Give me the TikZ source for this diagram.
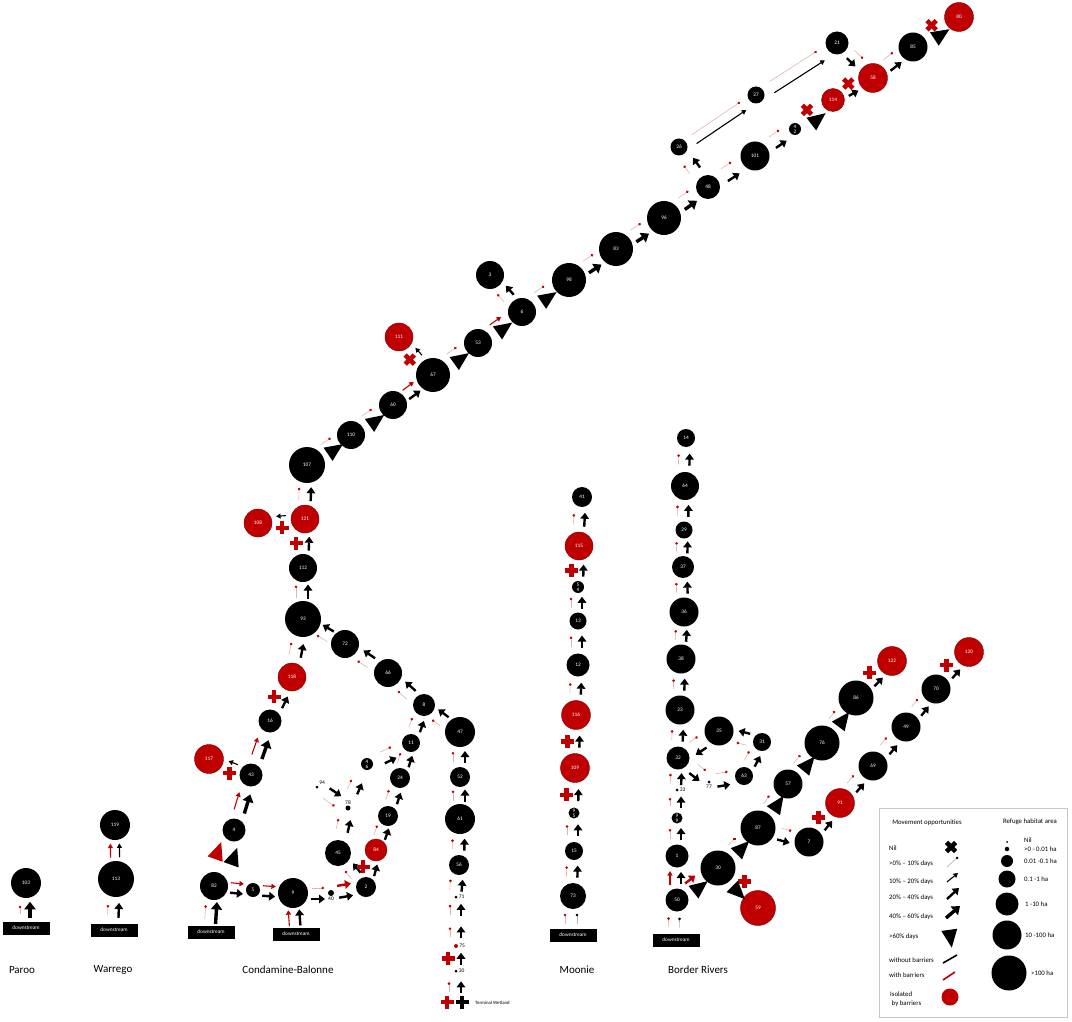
\documentclass[tikz,border=0pt]{standalone}
\usepackage{fontspec}
\setmainfont{Carlito}
\usetikzlibrary{calc,arrows.meta,shapes.geometric}
\definecolor{rd}{RGB}{192,0,0}
\definecolor{rdk}{RGB}{120,0,0}
\definecolor{pk}{RGB}{225,180,180}
\tikzset{
 nd/.style={circle, fill=black, inner sep=0pt, minimum size=#1pt, text=white, align=center, font=\fontsize{5.3}{5}\selectfont},
 rnd/.style={nd=#1, fill=rd, draw=rdk, line width=0.4pt},
 dt/.style={circle, fill=black, inner sep=0pt, minimum size=#1pt},
 lbl/.style={font=\fontsize{5.5}{6}\selectfont, inner sep=1pt},
 lo/.style={draw=pk, line width=0.6pt, -{Circle[length=2.6pt, color=rd]}},
 glo/.style={draw=black!30, line width=0.6pt, -{Circle[length=2.6pt, color=black]}},
 a1/.style={draw=black, line width=1.1pt, -{Triangle[length=4.5pt,width=5pt]}},
 ra1/.style={a1, draw=rd},
 a2/.style={draw=black, line width=2.4pt, -{Triangle[length=6pt,width=8.5pt]}},
 ra2/.style={a2, draw=rd},
 a3/.style={draw=black, line width=3.4pt, -{Triangle[length=7.5pt,width=11pt]}},
 trs/.style={isosceles triangle, isosceles triangle stretches, minimum width=16pt, minimum height=18pt, inner sep=0pt},
 dsb/.style={fill=black, text=white, minimum width=47pt, minimum height=13pt, inner sep=0pt, font=\fontsize{5.3}{5}\selectfont},
 rlab/.style={font=\fontsize{11}{13}\selectfont, inner sep=0pt},
 lf/.style={font=\fontsize{6.8}{8}\selectfont, inner sep=0pt, align=left},
 pics/plus/.style={code={\fill (-6.5,-2.3) rectangle (6.5,2.3); \fill (-2.3,-6.5) rectangle (2.3,6.5);}},
}
% connector symbol between two named nodes: [length]{style}{from}{to}{offset, + = left}
\newcommand{\lnk}[5][14]{%
  \path (#3) -- (#4) coordinate[pos=0] (qS) coordinate[pos=1] (qE) coordinate[pos=0.5] (qM);
  \draw[#2] ($(qM)!{-0.5*#1pt}!(qE)!#5pt!90:(qE)$) -- ($(qM)!{0.5*#1pt}!(qE)!#5pt!-90:(qS)$);}
% big triangle (>60% days): {from}{to}{offset}{colour}
\newcommand{\trg}[4]{%
  \path (#1) -- (#2) coordinate[pos=0] (qS) coordinate[pos=1] (qE) coordinate[pos=0.5] (qM);
  \path let \p1=($(qE)-(qS)$), \n1={atan2(\y1,\x1)} in
    node[trs, fill=#4, rotate=\n1] at ($(qM)!#3pt!90:(qE)$) {};}
% nil cross: {from}{to}{offset}{colour}{rotation}
\newcommand{\xcr}[5]{%
  \path (#1) -- (#2) coordinate[pos=0.5] (qM) coordinate[pos=1] (qE);
  \pic[#4, rotate=#5] at ($(qM)!#3pt!90:(qE)$) {plus};}
\begin{document}
\begin{tikzpicture}[x=1pt,y=-1pt]
\fill[white] (0,0) rectangle (1072,1022);
\useasboundingbox (0,0) rectangle (1072,1022);
% ---------------- Paroo
\node[nd=30] (n103) at (26,883) {103};
\node[dsb] (d103) at (26,928) {downstream};
% ---------------- Warrego
\node[nd=30] (n119) at (115,825) {119};
\node[nd=36] (n113) at (116,879) {113};
\node[dsb] (d113) at (114,930) {downstream};
% ---------------- Condamine-Balonne
\node[dsb] (d82) at (211,932) {downstream};
\node[dsb] (d9) at (296,934) {downstream};
\node[nd=28] (n82) at (214,886) {82};
\node[nd=14] (n5) at (253,890) {5};
\node[nd=30] (n9) at (293,893) {9};
\node[dt=6, label={[lbl]below:40}] (n40) at (331,893) {};
\node[nd=20] (n2) at (366,887) {2};
\node[nd=26] (n45) at (338,853) {45};
\node[rnd=22] (n84) at (376,850) {84};
\node[dt=5, label={[lbl]above:78}] (n78) at (348,808) {};
\node[dt=3, label={[lbl]above right:94}] (n94) at (317,787) {};
\node[nd=12] (n46) at (367,764) {4\\6};
\node[nd=20] (n19) at (388,816) {19};
\node[nd=20] (n24) at (400,778) {24};
\node[nd=18] (n11) at (411,743) {11};
\node[nd=22] (n8) at (424,705) {8};
\node[nd=30] (n47) at (460,732) {47};
\node[nd=20] (n52) at (460,777) {52};
\node[nd=30] (n61) at (460,819) {61};
\node[nd=20] (n56) at (459,865) {56};
\node[dt=3, label={[lbl]right:71}] (n71) at (456,897) {};
\coordinate (m75) at (456,921);
\node[dt=4, fill=rd, label={[lbl]right:75}] (n75) at (456,946) {};
\node[dt=3, label={[lbl]right:30}] (n30c) at (456,971) {};
\coordinate (tw) at (456,1002);
\node[lbl, anchor=west, font=\fontsize{4.8}{5}\selectfont] (twl) at (474,1003) {Terminal Wetland};
\node[nd=28] (n66) at (388,673) {66};
\node[nd=28] (n72) at (345,644) {72};
\node[nd=36] (n93) at (303,619) {93};
\node[nd=28] (n112) at (303,568) {112};
\node[rnd=28] (n121) at (305,519) {121};
\node[rnd=28] (n108) at (258,523) {108};
\node[nd=36] (n107) at (307,465) {107};
\node[nd=28] (n110) at (351,435) {110};
\node[nd=28] (n60) at (393,405) {60};
\node[nd=34] (n67) at (433,375) {67};
\node[rnd=28] (n111) at (399,337) {111};
\node[nd=28] (n53) at (478,343) {53};
\node[nd=28] (n6) at (522,312) {6};
\node[nd=28] (n3) at (490,275) {3};
\node[nd=34] (n98) at (569,280) {98};
\node[nd=34] (n83) at (616,249) {83};
\node[nd=34] (n96) at (664,218) {96};
\node[nd=24] (n48) at (708,187) {48};
\node[nd=17] (n26) at (679,147) {26};
\node[nd=17] (n27) at (756,95) {27};
\node[nd=23] (n21) at (837,43) {21};
\node[nd=29] (n101) at (755,156) {101};
\node[nd=12] (n42) at (795,129) {4\\2};
\node[rnd=23] (n114) at (833,100) {114};
\node[rnd=29] (n58) at (873,78) {58};
\node[nd=29] (n85) at (913,47) {85};
\node[rnd=29] (n80) at (959,17) {80};
\node[rnd=28] (n118) at (292,677) {118};
\node[nd=23] (n16) at (270,721) {16};
\node[nd=23] (n43) at (251,775) {43};
\node[rnd=29] (n117) at (209,759) {117};
\node[nd=23] (n4) at (234,830) {4};
% ---------------- Moonie
\node[nd=20] (n41) at (582,497) {41};
\node[rnd=28] (n115) at (579,546) {115};
\node[nd=12] (n54) at (578,587) {5\\4};
\node[nd=17] (n13) at (578,621) {13};
\node[nd=23] (n12) at (578,665) {12};
\node[rnd=29] (n116) at (576,715) {116};
\node[rnd=29] (n109) at (575,768) {109};
\node[nd=11] (n95) at (574,813) {9\\5};
\node[nd=18] (n15) at (574,851) {15};
\node[nd=26] (n73) at (573,896) {73};
\node[dsb] (d73) at (573,935) {downstream};
% ---------------- Border Rivers
\node[nd=18] (n14) at (686,438) {14};
\node[nd=28] (n64) at (685,486) {64};
\node[nd=17] (n29) at (684,530) {29};
\node[nd=22] (n37) at (683,567) {37};
\node[nd=29] (n36) at (684,612) {36};
\node[nd=29] (n38) at (681,659) {38};
\node[nd=29] (n23) at (680,710) {23};
\node[nd=23] (n32) at (678,758) {32};
\node[dt=3, label={[lbl]right:33}] (n33) at (677,790) {};
\node[nd=11] (n99) at (677,818) {9\\9};
\node[nd=23] (n1) at (677,856) {1};
\node[nd=23] (n50) at (677,900) {50};
\node[dsb] (d50) at (676,940) {downstream};
\node[nd=29] (n35) at (719,731) {35};
\node[nd=18] (n31) at (762,742) {31};
\node[nd=18] (n63) at (744,776) {63};
\node[dt=3, label={[lbl]below:77}] (n77) at (709,782) {};
\node[nd=35] (n30) at (718,868) {30};
\node[rnd=35] (n59) at (758,908) {59};
\node[nd=35] (n87) at (758,828) {87};
\node[nd=29] (n57) at (788,784) {57};
\node[nd=35] (n76) at (822,743) {76};
\node[nd=35] (n86) at (856,698) {86};
\node[rnd=29] (n122) at (892,661) {122};
\node[nd=29] (n7) at (809,842) {7};
\node[rnd=29] (n91) at (840,803) {91};
\node[nd=29] (n69) at (873,766) {69};
\node[nd=29] (n49) at (906,727) {49};
\node[nd=29] (n70) at (936,689) {70};
\node[rnd=29] (n120) at (969,652) {120};
% ---------------- region labels
\node[rlab] (lp) at (22,970) {Paroo};
\node[rlab] (lw) at (113,970) {Warrego};
\node[rlab] (lc) at (288,970) {Condamine-Balonne};
\node[rlab] (lm) at (577,970) {Moonie};
\node[rlab] (lb) at (698,970) {Border Rivers};
% ================= connectors
% Paroo / Warrego
\lnk[8]{lo}{d103}{n103}{6} \lnk[16]{a3}{d103}{n103}{-4}
\lnk[10]{lo}{d113}{n113}{7} \lnk[15]{a2}{d113}{n113}{-4}
\lnk[14]{ra1}{n113}{n119}{5} \lnk[14]{a1}{n113}{n119}{-4}
% Condamine lower
\lnk[14]{lo}{d82}{n82}{7} \lnk[22]{a3}{d82}{n82}{-4}
\lnk[16]{ra1}{d9}{n9}{6} \lnk[16]{a2}{d9}{n9}{-5}
\lnk[13]{ra1}{n82}{n5}{5} \lnk[13]{a2}{n82}{n5}{-5}
\lnk[13]{ra1}{n5}{n9}{5} \lnk[13]{a2}{n5}{n9}{-5}
\lnk[12]{lo}{n9}{n40}{5} \lnk[14]{a2}{n9}{n40}{-6}
\lnk[14]{ra2}{n40}{n2}{6} \lnk[14]{a2}{n40}{n2}{-6}
\trg{n82}{n4}{8}{rd} \trg{n82}{n4}{-9}{black}
\lnk[18]{ra1}{n4}{n43}{6} \lnk[20]{a3}{n4}{n43}{-5}
\lnk[18]{ra1}{n43}{n16}{6} \lnk[20]{a3}{n43}{n16}{-5}
\xcr{n43}{n117}{6}{rd}{0} \lnk[10]{a1}{n43}{n117}{-5}
\xcr{n16}{n118}{7}{rd}{0} \lnk[13]{a2}{n16}{n118}{-5}
\lnk[12]{lo}{n118}{n93}{7} \lnk[14]{a2}{n118}{n93}{-5}
\lnk[12]{lo}{n93}{n112}{7} \lnk[14]{a2}{n93}{n112}{-5}
\xcr{n112}{n121}{8}{rd}{0} \lnk[14]{a2}{n112}{n121}{-5}
\xcr{n121}{n108}{7}{rd}{0} \lnk[10]{a1}{n121}{n108}{-5}
\lnk[12]{lo}{n121}{n107}{7} \lnk[14]{a2}{n121}{n107}{-5}
% main upper chain
\lnk[12]{lo}{n107}{n110}{9} \trg{n107}{n110}{-3}{black}
\lnk[12]{lo}{n110}{n60}{9} \trg{n110}{n60}{-3}{black}
\lnk[14]{ra1}{n60}{n67}{6} \lnk[14]{a2}{n60}{n67}{-5}
\xcr{n67}{n111}{7}{rd}{45} \lnk[10]{a1}{n67}{n111}{-5}
\lnk[12]{lo}{n67}{n53}{9} \trg{n67}{n53}{-3}{black}
\lnk[14]{ra1}{n53}{n6}{8} \trg{n53}{n6}{-3}{black}
\lnk[10]{lo}{n6}{n3}{7} \lnk[12]{a2}{n6}{n3}{-5}
\lnk[12]{lo}{n6}{n98}{9} \trg{n6}{n98}{-3}{black}
\lnk[12]{lo}{n98}{n83}{8} \lnk[15]{a3}{n98}{n83}{-5}
\lnk[12]{lo}{n83}{n96}{8} \lnk[15]{a3}{n83}{n96}{-5}
\lnk[12]{lo}{n96}{n48}{8} \lnk[15]{a3}{n96}{n48}{-5}
\lnk[10]{lo}{n48}{n26}{7} \lnk[12]{a2}{n48}{n26}{-5}
\lnk[58]{lo}{n26}{n27}{3} \lnk[60]{a1}{n26}{n27}{-7}
\lnk[56]{lo}{n27}{n21}{4} \lnk[60]{a1}{n27}{n21}{-8}
\lnk[12]{lo}{n21}{n58}{7} \lnk[12]{a2}{n21}{n58}{-4}
\lnk[12]{lo}{n48}{n101}{8} \lnk[14]{a2}{n48}{n101}{-6}
\lnk[12]{lo}{n101}{n42}{8} \lnk[13]{a2}{n101}{n42}{-5}
\xcr{n42}{n114}{8}{rd}{45} \trg{n42}{n114}{-6}{black}
\xcr{n114}{n58}{7}{rd}{45} \lnk[11]{a2}{n114}{n58}{-4}
\lnk[12]{lo}{n58}{n85}{8} \lnk[14]{a2}{n58}{n85}{-5}
\xcr{n85}{n80}{8}{rd}{45} \trg{n85}{n80}{-5}{black}
% Condamine inner network
\lnk[12]{lo}{n8}{n66}{7} \lnk[14]{a2}{n8}{n66}{-5}
\lnk[12]{lo}{n66}{n72}{7} \lnk[14]{a2}{n66}{n72}{-5}
\lnk[12]{lo}{n72}{n93}{7} \lnk[13]{a2}{n72}{n93}{-5}
\lnk[10]{lo}{n2}{n45}{6} \lnk[12]{a2}{n2}{n45}{-5}
\xcr{n2}{n84}{8}{rd}{0} \lnk[12]{a2}{n2}{n84}{-5}
\lnk[10]{lo}{n45}{n78}{7} \lnk[13]{a2}{n45}{n78}{-5}
\lnk[14]{a2}{n94}{n78}{6} \lnk[14]{lo}{n94}{n78}{-6}
\lnk[10]{lo}{n78}{n46}{8} \lnk[12]{a2}{n78}{n46}{-3}
\lnk[12]{lo}{n46}{n11}{5} \lnk[13]{a2}{n46}{n11}{-7}
\lnk[10]{lo}{n84}{n19}{7} \lnk[12]{a2}{n84}{n19}{-5}
\lnk[10]{lo}{n19}{n24}{7} \lnk[12]{a2}{n19}{n24}{-5}
\lnk[10]{lo}{n24}{n11}{7} \lnk[12]{a2}{n24}{n11}{-5}
\lnk[10]{lo}{n11}{n8}{7} \lnk[12]{a2}{n11}{n8}{-5}
\lnk[10]{lo}{n47}{n8}{7} \lnk[13]{a2}{n47}{n8}{-5}
\lnk[10]{lo}{n52}{n47}{7} \lnk[12]{a2}{n52}{n47}{-5}
\lnk[10]{lo}{n61}{n52}{7} \lnk[12]{a2}{n61}{n52}{-5}
\lnk[10]{lo}{n56}{n61}{7} \lnk[12]{a2}{n56}{n61}{-5}
\lnk[10]{lo}{n71}{n56}{7} \lnk[12]{a2}{n71}{n56}{-5}
\lnk[10]{lo}{m75}{n71}{6} \lnk[12]{a2}{m75}{n71}{-5}
\lnk[10]{lo}{n75}{m75}{6} \lnk[12]{a2}{n75}{m75}{-5}
\xcr{n30c}{n75}{8}{rd}{0} \lnk[12]{a2}{n30c}{n75}{-5}
\lnk[10]{lo}{tw}{n30c}{7} \lnk[12]{a2}{tw}{n30c}{-5}
\pic[rd] at ($(tw)+(-9,0)$) {plus};
\pic[black] at ($(tw)+(6,0)$) {plus};
% Moonie
\lnk[10]{lo}{d73}{n73}{8} \lnk[10]{glo}{d73}{n73}{-4}
\lnk[10]{lo}{n73}{n15}{7} \lnk[12]{a2}{n73}{n15}{-4}
\lnk[10]{lo}{n15}{n95}{7} \lnk[12]{a2}{n15}{n95}{-4}
\xcr{n95}{n109}{8}{rd}{0} \lnk[12]{a2}{n95}{n109}{-4}
\xcr{n109}{n116}{8}{rd}{0} \lnk[12]{a2}{n109}{n116}{-4}
\lnk[10]{lo}{n116}{n12}{7} \lnk[12]{a2}{n116}{n12}{-4}
\lnk[10]{lo}{n12}{n13}{7} \lnk[12]{a2}{n12}{n13}{-4}
\lnk[10]{lo}{n13}{n54}{7} \lnk[12]{a2}{n13}{n54}{-4}
\xcr{n54}{n115}{7}{rd}{0} \lnk[12]{a2}{n54}{n115}{-5}
\lnk[10]{lo}{n115}{n41}{7} \lnk[14]{a2}{n115}{n41}{-4}
% Border Rivers
\lnk[10]{lo}{d50}{n50}{8} \lnk[10]{glo}{d50}{n50}{-3}
\lnk[14]{ra1}{n50}{n1}{7} \lnk[12]{a2}{n50}{n1}{-4}
\lnk[10]{lo}{n1}{n99}{7} \lnk[12]{a2}{n1}{n99}{-4}
\lnk[8]{lo}{n99}{n33}{7} \lnk[11]{a2}{n99}{n33}{-4}
\lnk[10]{lo}{n33}{n32}{7} \lnk[12]{a2}{n33}{n32}{-4}
\lnk[10]{lo}{n32}{n23}{7} \lnk[12]{a2}{n32}{n23}{-4}
\lnk[10]{lo}{n23}{n38}{7} \lnk[12]{a2}{n23}{n38}{-4}
\lnk[10]{lo}{n38}{n36}{7} \lnk[12]{a2}{n38}{n36}{-4}
\lnk[10]{lo}{n36}{n37}{7} \lnk[12]{a2}{n36}{n37}{-4}
\lnk[10]{lo}{n37}{n29}{7} \lnk[12]{a2}{n37}{n29}{-4}
\lnk[10]{lo}{n29}{n64}{7} \lnk[12]{a2}{n29}{n64}{-4}
\lnk[10]{lo}{n64}{n14}{7} \lnk[12]{a2}{n64}{n14}{-4}
\lnk[10]{lo}{n32}{n35}{7} \lnk[13]{a2}{n35}{n32}{7}
\lnk[10]{lo}{n32}{n77}{7} \lnk[13]{a2}{n32}{n77}{-5}
\lnk[12]{lo}{n77}{n63}{7} \lnk[13]{a2}{n77}{n63}{-6}
\lnk[10]{lo}{n63}{n31}{7} \lnk[12]{a2}{n63}{n31}{-5}
\lnk[10]{lo}{n31}{n35}{7} \lnk[12]{a2}{n31}{n35}{-5}
\lnk[13]{ra2}{n50}{n30}{8} \trg{n50}{n30}{-4}{black}
\xcr{n30}{n59}{9}{rd}{0} \trg{n30}{n59}{-3}{black}
\lnk[10]{lo}{n30}{n87}{9} \trg{n30}{n87}{-3}{black}
\lnk[10]{lo}{n87}{n57}{9} \trg{n87}{n57}{-3}{black}
\lnk[10]{lo}{n57}{n76}{9} \trg{n57}{n76}{-3}{black}
\lnk[10]{lo}{n76}{n86}{9} \trg{n76}{n86}{-3}{black}
\xcr{n86}{n122}{8}{rd}{0} \lnk[12]{a2}{n86}{n122}{-5}
\lnk[10]{lo}{n87}{n7}{6} \lnk[13]{a2}{n87}{n7}{-6}
\xcr{n7}{n91}{8}{rd}{0} \lnk[12]{a2}{n7}{n91}{-5}
\lnk[10]{lo}{n91}{n69}{8} \lnk[12]{a2}{n91}{n69}{-5}
\lnk[10]{lo}{n69}{n49}{8} \lnk[12]{a2}{n69}{n49}{-5}
\lnk[10]{lo}{n49}{n70}{8} \lnk[12]{a2}{n49}{n70}{-5}
\xcr{n70}{n120}{8}{rd}{0} \lnk[12]{a2}{n70}{n120}{-5}
% ================= legend
\node[draw=black!22, line width=0.7pt, minimum width=188pt, minimum height=209pt, inner sep=0pt] (leg) at (973,912.5) {};
\node[lf] (lt1) at (927,823) {Movement opportunities};
\node[lf] (lt2) at (1030,822) {Refuge habitat area};
\node[lf, anchor=west] (lnil) at (889,848) {Nil};
\node[lf, anchor=west] (l1) at (889,864) {>0\% -- 10\% days};
\node[lf, anchor=west] (l2) at (889,882) {10\% -- 20\% days};
\node[lf, anchor=west] (l3) at (889,898) {20\% -- 40\% days};
\node[lf, anchor=west] (l4) at (889,917) {40\% -- 60\% days};
\node[lf, anchor=west] (l5) at (889,937) {>60\% days};
\node[lf, anchor=west] (l6) at (889,960) {without barriers};
\node[lf, anchor=west] (l7) at (889,975) {with barriers};
\node[lf, anchor=west] (l8) at (890,999) {Isolated\\[1pt]\hspace*{1.5pt}by barriers};
\pic[black, rotate=45] at (951,847) {plus};
\coordinate (g1a) at (947,867); \coordinate (g1b) at (958,857); \draw[glo] (g1a) -- (g1b);
\coordinate (g2a) at (947,882); \coordinate (g2b) at (958,873); \draw[a1] (g2a) -- (g2b);
\coordinate (g3a) at (947,899); \coordinate (g3b) at (959,888); \draw[a2] (g3a) -- (g3b);
\coordinate (g4a) at (946,918); \coordinate (g4b) at (960,906); \draw[a3] (g4a) -- (g4b);
\node[trs, fill=black, rotate=-82] (gtri) at (950,935) {};
\coordinate (g6a) at (943,963); \coordinate (g6b) at (957,955); \draw[black, line width=1.6pt] (g6a) -- (g6b);
\coordinate (g7a) at (943,980); \coordinate (g7b) at (955,972); \draw[rd, line width=1.6pt] (g7a) -- (g7b);
\node[circle, fill=rd, minimum size=17pt, inner sep=0pt] (giso) at (950,997) {};
\node[dt=2] (s0) at (1007,842) {};
\node[dt=4.5] (s1) at (1007,849) {};
\node[dt=12] (s2) at (1007,861) {};
\node[dt=17] (s3) at (1007,879) {};
\node[dt=23] (s4) at (1007,904) {};
\node[dt=29] (s5) at (1007,935) {};
\node[dt=35] (s6) at (1009,973) {};
\node[lf, anchor=west] (t0) at (1024,840) {Nil};
\node[lf, anchor=west] (t1) at (1024,849) {>0 - 0.01 ha};
\node[lf, anchor=west] (t2) at (1024,861) {0.01 -0.1 ha};
\node[lf, anchor=west] (t3) at (1024,879) {0.1 -1 ha};
\node[lf, anchor=west] (t4) at (1025,904) {1 -10 ha};
\node[lf, anchor=west] (t5) at (1025,935) {10 -100 ha};
\node[lf, anchor=west] (t6) at (1031,973) {>100 ha};
\end{tikzpicture}
\end{document}
